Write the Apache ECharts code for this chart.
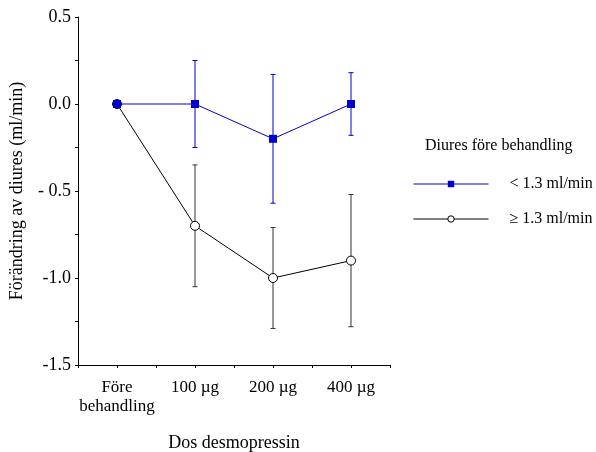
<!DOCTYPE html>
<html>
<head>
<meta charset="utf-8">
<script src="https://cdn.jsdelivr.net/npm/echarts@6/dist/echarts.min.js"></script>
<style>
  html, body { margin: 0; padding: 0; background: #fff; }
  #chart { width: 596px; height: 452px; }
</style>
</head>
<body>
<div id="chart"></div>
<script>
const categories = ['Före\nbehandling', '100 µg', '200 µg', '400 µg']
const yTickLabels = { '0.5': '0.5', '0': '0.0', '-0.5': '- 0.5', '-1': '-1.0', '-1.5': '-1.5' }

// < 1.3 ml/min
const lowMean = [0, 0, -0.2, 0]
const lowErr = [0, 0.25, 0.37, 0.18]
// >= 1.3 ml/min
const highMean = [0, -0.7, -1.0, -0.9]
const highErr = [0, 0.35, 0.29, 0.38]

const serif = 'Liberation Serif'
const blue = '#0000cc'

function errData(mean, err) {
  return mean.map((m, i) => [i, m - err[i], m + err[i]]).filter((d, i) => err[i] > 0)
}

function errorBar(color) {
  return function (params, api) {
    const x = api.value(0)
    const lo = api.coord([x, api.value(1)])
    const hi = api.coord([x, api.value(2)])
    const cap = 2.5
    const style = { stroke: color, lineWidth: 1 }
    return {
      type: 'group',
      children: [
        { type: 'line', shape: { x1: lo[0], y1: lo[1], x2: hi[0], y2: hi[1] }, style },
        { type: 'line', shape: { x1: lo[0] - cap, y1: lo[1], x2: lo[0] + cap, y2: lo[1] }, style },
        { type: 'line', shape: { x1: hi[0] - cap, y1: hi[1], x2: hi[0] + cap, y2: hi[1] }, style }
      ]
    }
  }
}

const chart = echarts.init(document.getElementById('chart'))
chart.setOption({
  animation: false,
  textStyle: { fontFamily: serif },
  title: {
    text: 'Diures före behandling',
    left: 425,
    top: 138,
    padding: 0,
    textStyle: { fontFamily: serif, fontSize: 16, fontWeight: 'normal', color: '#000' }
  },
  legend: {
    orient: 'vertical',
    left: 413,
    top: 176,
    padding: 0,
    itemGap: 19,
    itemWidth: 75,
    itemHeight: 8,
    lineStyle: { width: 1 },
    itemStyle: { borderWidth: 1 },
    textStyle: { fontFamily: serif, fontSize: 16, color: '#000', padding: [0, 0, 0, 16] },
    data: ['< 1.3 ml/min', '≥ 1.3 ml/min']
  },
  grid: { left: 78, right: 206, top: 17, bottom: 87, containLabel: false, outerBoundsMode: 'none' },
  xAxis: {
    type: 'value',
    min: -0.5,
    max: 3.5,
    interval: 0.5,
    splitLine: { show: false },
    axisLine: { onZero: false, lineStyle: { color: '#000', width: 1 } },
    axisTick: { length: 3, lineStyle: { color: '#000' } },
    axisLabel: {
      color: '#000',
      fontSize: 17,
      lineHeight: 19,
      margin: 13,
      showMinLabel: true,
      showMaxLabel: true,
      formatter: v => Number.isInteger(v) && v >= 0 && v < categories.length ? categories[v] : ''
    },
    name: 'Dos desmopressin',
    nameLocation: 'middle',
    nameGap: 69,
    nameTextStyle: { fontFamily: serif, fontSize: 18, color: '#000' }
  },
  yAxis: {
    type: 'value',
    min: -1.5,
    max: 0.5,
    interval: 0.25,
    splitLine: { show: false },
    axisLine: { show: true, onZero: false, lineStyle: { color: '#000', width: 1 } },
    axisTick: { show: true, length: 3, lineStyle: { color: '#000' } },
    axisLabel: {
      color: '#000',
      fontSize: 18,
      margin: 7,
      formatter: v => yTickLabels[String(Math.round(v * 100) / 100)] || ''
    },
    name: 'Förändring av diures (ml/min)',
    nameLocation: 'middle',
    nameGap: 52,
    nameTextStyle: { fontFamily: serif, fontSize: 18, color: '#000' }
  },
  series: [
    {
      type: 'custom',
      renderItem: errorBar('#333'),
      data: errData(highMean, highErr),
      z: 1,
      silent: true
    },
    {
      type: 'custom',
      renderItem: errorBar(blue),
      data: errData(lowMean, lowErr),
      z: 1,
      silent: true
    },
    {
      name: '≥ 1.3 ml/min',
      type: 'line',
      data: highMean.map((v, i) => [i, v]),
      symbol: 'circle',
      symbolSize: 9,
      lineStyle: { color: '#000', width: 1 },
      itemStyle: { color: '#fff', borderColor: '#000', borderWidth: 1 },
      z: 3
    },
    {
      name: '< 1.3 ml/min',
      type: 'line',
      data: lowMean.map((v, i) => [i, v]),
      symbol: 'rect',
      symbolSize: 8,
      lineStyle: { color: blue, width: 1 },
      itemStyle: { color: blue },
      z: 4
    }
  ]
})
</script>
</body>
</html>
